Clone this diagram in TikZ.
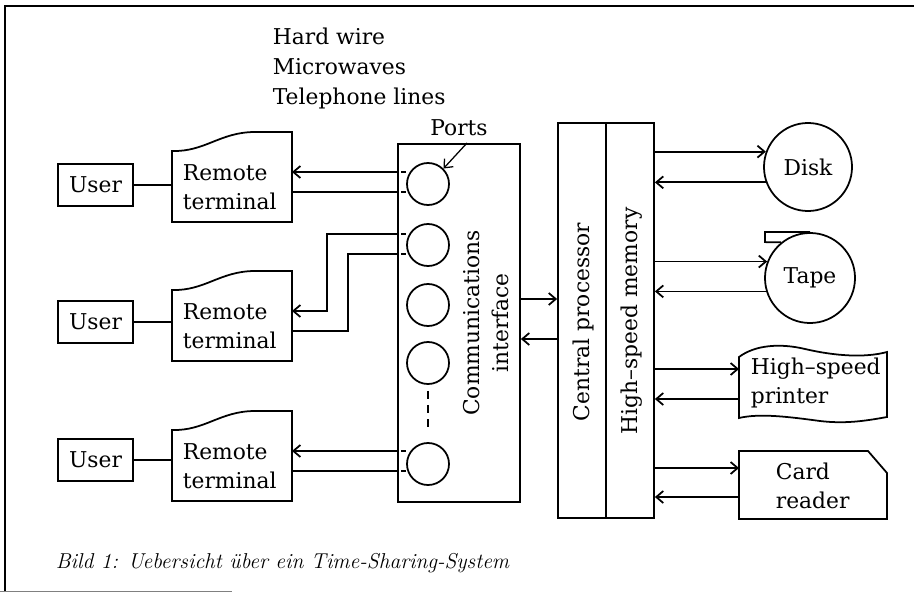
\documentclass[tikz,border=0pt]{standalone}
\usepackage{fontspec}
\usetikzlibrary{calc}
\usetikzlibrary{arrows.meta}
\usetikzlibrary{positioning}
\newfontfamily\slabfont{DejaVu Serif}

\begin{document}
\begin{tikzpicture}[x=0.025cm, y=-0.025cm, line width=1.25pt,
    lbl/.style={font=\slabfont\fontsize{15.5}{21}\selectfont, inner sep=0pt},
    box/.style={draw, inner sep=0pt},
    port/.style={draw, circle, minimum size=1.05cm, inner sep=0pt},
    tip/.style={-{Straight Barb[length=5pt,width=8.5pt]}}]
  \useasboundingbox (0,0) rectangle (914,592);
  % frame
  \draw[line width=1.8pt] (5,592) -- (5,6) -- (914,6);
  \draw[line width=0.6pt, black!50] (0,591) -- (232,591);

  % users and remote terminals
  \foreach \i/\yb/\yu in {1/222/185, 2/361/322, 3/501/460} {
    \node[box, lbl, minimum width=1.875cm, minimum height=1.05cm] (user\i) at (95.5,\yu) {User};
    \draw (172,\yb) -- (172,\yb-71) .. controls (205,\yb-70) and (220,\yb-90) .. (255,\yb-90) -- (292,\yb-90) -- (292,\yb) -- cycle;
    \node[lbl, anchor=west, align=left] (term\i) at (182,\yb-35) {Remote\\terminal};
    \coordinate (term\i-w) at (172,\yu);
    \coordinate (term\i-in) at (292,\yb-50);
    \coordinate (term\i-out) at (292,\yb-30);
    \draw (user\i) -- (term\i-w);
  }
  \node[lbl, anchor=west, align=left] (media) at (272,68.5) {Hard wire\\Microwaves\\Telephone lines};

  % communications interface with ports
  \node[box, minimum width=3.05cm, minimum height=8.95cm] (ci) at (459,323) {};
  \node[lbl, rotate=90, align=center] (citext) at (486,323) {Communications\\interface};
  \foreach \i/\y in {1/184, 2/245, 3/305, 4/363, 5/464}
    \node[port] (p\i) at (428,\y) {};
  \draw[dash pattern=on 6pt off 4pt] ($(p4.south)+(0,6)$) -- ($(p5.north)+(0,-10)$);
  \node[lbl] (portlbl) at (459,128) {Ports};
  \draw[tip, line width=0.9pt] ($(portlbl.south)+(8,6)$) -- (p1.north east);

  \coordinate (p2a) at ($(p2)+(0,-11)$);
  \coordinate (p2b) at ($(p2)+(0,9)$);
  \draw[tip] (ci.west |- term1-in) -- (term1-in);
  \draw (ci.west |- term1-out) -- (term1-out);
  \draw[tip] (ci.west |- p2a) -- ++(-70,0) |- (term2-in);
  \draw (ci.west |- p2b) -- ++(-49,0) |- (term2-out);
  \draw[tip] (ci.west |- term3-in) -- (term3-in);
  \draw (ci.west |- term3-out) -- (term3-out);
  \foreach \c in {term1-in, term1-out, p2a, p2b, term3-in, term3-out}
    \draw ($(ci.west |- \c)+(4,0)$) -- ++(5,0);

  % processor and memory
  \node[box, minimum width=1.2cm, minimum height=9.875cm] (cpu) at (582,320.5) {};
  \node[box, minimum width=1.2cm, minimum height=9.875cm] (hsm) at (630,320.5) {};
  \node[lbl, rotate=90] (cputext) at (583,322) {Central processor};
  \node[lbl, rotate=90] (hsmtext) at (632,321) {High–speed memory};
  \draw[tip] (ci.east |- 0,299) -- (cpu.west |- 0,299);
  \draw[tip] (cpu.west |- 0,339) -- (ci.east |- 0,339);

  % peripherals
  \node[draw, circle, lbl, minimum size=2.2cm] (disk) at (808,167) {Disk};
  \draw[tip] (hsm.east |- disk.160) -- (disk.160);
  \draw[tip] (disk.200) -- (hsm.east |- disk.200);

  \node[draw, circle, lbl, minimum size=2.25cm] (tape) at (810,278) {Tape};
  \draw (tape.north) -- ++(-45,0) -- ++(0,10) -- (tape.129);
  \draw[tip] (hsm.east |- tape.159) -- (tape.159);
  \draw[tip] (tape.197) -- (hsm.east |- tape.197);

  \draw (739,357) .. controls (755,345) and (780,343) .. (805,349) .. controls (835,356) and (865,358) .. (887,352)
    -- (887,417) .. controls (865,421) and (845,424) .. (820,421) .. controls (790,417) and (760,413) .. (739,418) -- cycle;
  \node[lbl, anchor=west, align=left] (prn) at (750,383) {High–speed\\printer};
  \coordinate (prn-w) at (739,383);
  \draw[tip] (hsm.east |- 0,369) -- (prn-w |- 0,369);
  \draw[tip] (prn-w |- 0,399) -- (hsm.east |- 0,399);

  \draw (739,451) -- (868,451) -- (887,473) -- (887,519) -- (739,519) -- cycle;
  \node[lbl, anchor=west, align=left] (card) at (775,486) {Card\\reader};
  \coordinate (card-w) at (739,486);
  \draw[tip] (hsm.east |- 0,468) -- (card-w |- 0,468);
  \draw[tip] (card-w |- 0,497) -- (hsm.east |- 0,497);

  % caption
  \node[anchor=west, inner sep=0pt, font=\itshape\fontsize{15.3}{18}\selectfont] (caption) at (55,563) {Bild 1: Uebersicht über ein Time-Sharing-System};
\end{tikzpicture}
\end{document}
